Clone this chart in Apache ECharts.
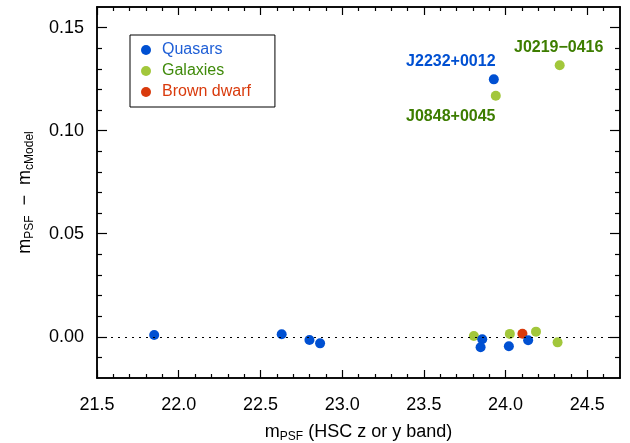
<!DOCTYPE html>
<html>
<head>
<meta charset="utf-8">
<script src="https://cdn.jsdelivr.net/npm/echarts@6/dist/echarts.min.js"></script>
<style>
    html, body { margin: 0; padding: 0; background: #fff; }
    #chart { width: 630px; height: 443px; }
</style>
</head>
<body>
<div id="chart"></div>
<script>
    // values
    var quasarX = [21.85, 22.63, 22.80, 22.865, 23.857, 23.847, 24.02, 24.138, 23.928];
    var quasarY = [0.0009, 0.0012, -0.0016, -0.0032, -0.0012, -0.0051, -0.0046, -0.0017, 0.1249];
    var galaxyX = [23.806, 24.026, 24.186, 24.318, 23.94, 24.331];
    var galaxyY = [0.0004, 0.0014, 0.0025, -0.0027, 0.1169, 0.1317];
    var dwarfX = [24.103];
    var dwarfY = [0.0015];

    var xMajor = [21.5, 22.0, 22.5, 23.0, 23.5, 24.0, 24.5];
    var xMinor = [21.6, 21.7, 21.8, 21.9, 22.1, 22.2, 22.3, 22.4, 22.6, 22.7, 22.8, 22.9,
                  23.1, 23.2, 23.3, 23.4, 23.6, 23.7, 23.8, 23.9, 24.1, 24.2, 24.3, 24.4, 24.6];
    var yMajor = [0, 0.05, 0.10, 0.15];
    var yMinor = [-0.01, 0.01, 0.02, 0.03, 0.04, 0.06, 0.07, 0.08, 0.09, 0.11, 0.12, 0.13, 0.14];

    // annotated objects: [series, index, name, dx, dy]
    var notes = [
        ['q', 8, 'J2232+0012', -43, -18],
        ['g', 4, 'J0848+0045', -45, 21],
        ['g', 5, 'J0219\u22120416', -1, -18]
    ];

    var BLUE = '#0050d2', GREEN = '#a2c73b', RED = '#d93a0c', DKGREEN = '#3d7d00';
    var FONT = 'Liberation Sans';

    function pts(xs, ys, key, color) {
        return xs.map(function (x, i) {
            var item = { value: [x, ys[i]] };
            notes.forEach(function (n) {
                if (n[0] === key && n[1] === i) {
                    item.label = {
                        show: true, position: 'inside', formatter: n[2], offset: [n[3], n[4]],
                        color: color, fontSize: 16, fontWeight: 'bold', fontFamily: FONT
                    };
                }
            });
            return item;
        });
    }

    function xAx(pos, ticks, len, labels) {
        return {
            type: 'value', position: pos, min: 21.5, max: 24.7, gridIndex: 0,
            axisLine: { show: true, onZero: false, lineStyle: { color: '#000', width: 1.5 } },
            axisTick: { show: true, inside: true, length: len, customValues: ticks, lineStyle: { color: '#000', width: 1.2 } },
            axisLabel: labels ? {
                show: true, customValues: xMajor, margin: 18, fontSize: 18, color: '#000', fontFamily: FONT,
                formatter: function (v) { return v.toFixed(1); }
            } : { show: false },
            splitLine: { show: false }
        };
    }

    function yAx(pos, ticks, len, labels) {
        return {
            type: 'value', position: pos, min: -0.02, max: 0.16, gridIndex: 0,
            axisLine: { show: true, onZero: false, lineStyle: { color: '#000', width: 1.5 } },
            axisTick: { show: true, inside: true, length: len, customValues: ticks, lineStyle: { color: '#000', width: 1.2 } },
            axisLabel: labels ? {
                show: true, customValues: yMajor, margin: 13, fontSize: 18, color: '#000', fontFamily: FONT,
                formatter: function (v) { return v.toFixed(2); }
            } : { show: false },
            splitLine: { show: false }
        };
    }

    var xAxes = [xAx('bottom', xMajor, 8, true), xAx('bottom', xMinor, 4), xAx('top', xMajor, 8), xAx('top', xMinor, 4)];
    var yAxes = [yAx('left', yMajor, 10, true), yAx('left', yMinor, 5), yAx('right', yMajor, 10), yAx('right', yMinor, 5)];

    var nameStyle = {
        rich: {
            a: { fontSize: 18, fontFamily: FONT, color: '#000', lineHeight: 22, verticalAlign: 'middle' },
            s: { fontSize: 12, fontFamily: FONT, color: '#000', lineHeight: 12, verticalAlign: 'bottom' }
        }
    };
    xAxes[0].name = '{a|m}{s|PSF}{a| (HSC z or y band)}';
    xAxes[0].nameLocation = 'middle';
    xAxes[0].nameGap = 43;
    xAxes[0].nameTextStyle = nameStyle;
    yAxes[0].name = '{a|m}{s|PSF}{a|  \u2212  m}{s|cModel}';
    yAxes[0].nameLocation = 'middle';
    yAxes[0].nameGap = 61;
    yAxes[0].nameTextStyle = nameStyle;

    var chart = echarts.init(document.getElementById('chart'));
    chart.setOption({
        animation: false,
        backgroundColor: '#fff',
        grid: { left: 97, right: 10, top: 7, bottom: 65, outerBoundsMode: 'none' },
        xAxis: xAxes,
        yAxis: yAxes,
        legend: {
            orient: 'vertical', left: 130, top: 35,
            icon: 'circle', itemWidth: 10, itemHeight: 10, itemGap: 5,
            padding: [7, 24, 7, 11],
            borderColor: '#000', borderWidth: 1,
            textStyle: { fontSize: 16, fontFamily: FONT, padding: [0, 0, 0, 6] },
            data: [
                { name: 'Quasars', textStyle: { color: '#1f5fd6' } },
                { name: 'Galaxies', textStyle: { color: '#3f8a0a' } },
                { name: 'Brown dwarf', textStyle: { color: RED } }
            ]
        },
        series: [
            {
                name: 'Galaxies', type: 'scatter', symbolSize: 10, itemStyle: { color: GREEN, opacity: 1 },
                data: pts(galaxyX, galaxyY, 'g', DKGREEN),
                markLine: {
                    silent: true, symbol: 'none', label: { show: false },
                    lineStyle: { type: [2, 5], color: '#000', width: 1.2 },
                    data: [{ yAxis: 0 }]
                }
            },
            {
                name: 'Brown dwarf', type: 'scatter', symbolSize: 10, itemStyle: { color: RED, opacity: 1 },
                data: pts(dwarfX, dwarfY, 'd', RED)
            },
            {
                name: 'Quasars', type: 'scatter', symbolSize: 10, itemStyle: { color: BLUE, opacity: 1 },
                data: pts(quasarX, quasarY, 'q', BLUE)
            }
        ]
    });
</script>
</body>
</html>
